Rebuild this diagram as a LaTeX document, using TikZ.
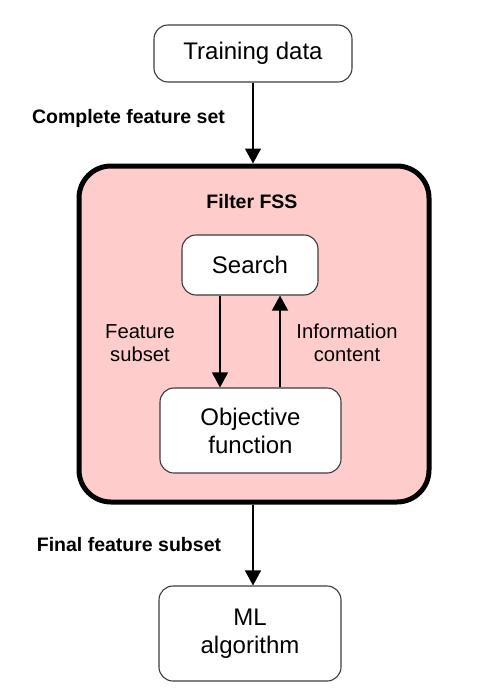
\documentclass[tikz,border=0pt]{standalone}
\usepackage{fontspec}
\setmainfont{Liberation Sans}
\usetikzlibrary{arrows.meta}
\definecolor{pinkfill}{RGB}{255,204,204}
\definecolor{boxline}{RGB}{60,60,60}
\tikzset{
  smallbox/.style={draw=boxline, line width=1.1pt, fill=white, rounded corners=14pt,
    align=center, font=\fontsize{24}{28}\selectfont, inner sep=0pt},
  bigbox/.style={draw=black, line width=5pt, fill=pinkfill, rounded corners=32pt, inner sep=0pt},
  outlabel/.style={font=\bfseries\fontsize{19.5}{23}\selectfont, inner sep=0pt},
  inlabel/.style={font=\fontsize{20.2}{23}\selectfont, align=center, inner sep=0pt},
  flowarrow/.style={line width=1.4pt, -{Triangle[width=16pt,length=15pt]}},
}
\begin{document}
\begin{tikzpicture}[x=1pt,y=-1pt]
\useasboundingbox (0,0) rectangle (482,693);
\fill[white] (0,0) rectangle (482,693);
\node[bigbox, minimum width=350pt, minimum height=336pt] (filter) at (254,334) {};
\node[outlabel] (ftitle) at (252,202) {Filter FSS};
\node[smallbox, minimum width=198pt, minimum height=57pt] (train) at (253,53.5) {Training data};
\node[smallbox, minimum width=136pt, minimum height=60pt] (search) at (250,265) {Search};
\node[smallbox, minimum width=181pt, minimum height=85pt] (obj) at (250.5,430.5) {Objective\\function};
\node[smallbox, minimum width=182pt, minimum height=95pt] (ml) at (250,633.5) {ML\\algorithm};
\node[outlabel] (lcomplete) at (128.5,118) {Complete feature set};
\node[outlabel] (lfinal) at (129,545) {Final feature subset};
\node[inlabel] (lsubset) at (140,343) {Feature\\subset};
\node[inlabel] (linfo) at (347,343) {Information\\content};
\draw[flowarrow] (train.south) -- (train.south |- filter.north);
\draw[flowarrow] ([xshift=-30pt]search.south) -- ([xshift=-30pt]search.south |- obj.north);
\draw[flowarrow] ([xshift=30pt]search.south |- obj.north) -- ([xshift=30pt]search.south);
\draw[flowarrow] ([xshift=-1pt]filter.south) -- ([xshift=-1pt]filter.south |- ml.north);
\end{tikzpicture}
\end{document}
